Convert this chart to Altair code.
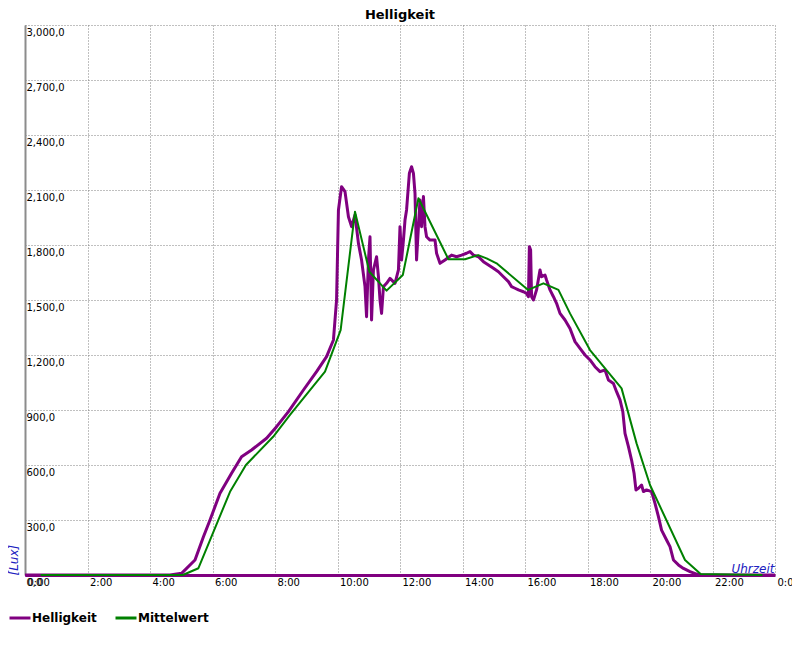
import altair as alt
import pandas as pd

# Helligkeit (hours, lux)
hell_h = [0.0, 4.64, 5.01, 5.44, 5.71, 5.92, 6.24, 6.61, 6.93, 7.25, 7.73, 8.05, 8.43, 8.91,
          9.33, 9.65, 9.87, 9.97, 10.03, 10.13, 10.24, 10.35, 10.45, 10.56, 10.67, 10.77,
          10.88, 10.93, 10.99, 11.04, 11.09, 11.15, 11.25, 11.31, 11.36, 11.41, 11.47, 11.57,
          11.68, 11.84, 11.95, 12.0, 12.05, 12.11, 12.16, 12.21, 12.30, 12.37, 12.43, 12.48,
          12.53, 12.59, 12.64, 12.69, 12.75, 12.80, 12.85, 12.96, 13.12, 13.17, 13.28, 13.44,
          13.65, 13.81, 13.97, 14.13, 14.24, 14.35, 14.51, 14.67, 14.83, 14.99, 15.15, 15.31,
          15.47, 15.57, 15.68, 15.79, 15.95, 16.05, 16.11, 16.14, 16.18, 16.21, 16.27, 16.37,
          16.48, 16.53, 16.64, 16.69, 16.80, 16.91, 17.01, 17.12, 17.28, 17.44, 17.60, 17.76,
          17.92, 18.08, 18.24, 18.40, 18.56, 18.67, 18.83, 18.93, 19.04, 19.13, 19.20, 19.31,
          19.41, 19.49, 19.55, 19.63, 19.73, 19.79, 19.89, 20.05, 20.16, 20.27, 20.37, 20.53,
          20.64, 20.75, 20.91, 21.07, 21.28, 21.49, 21.65, 24.0]
hell_v = [0, 0, 9, 82, 209, 300, 446, 555, 645, 682, 746, 809, 891, 1009,
          1109, 1191, 1282, 1500, 1991, 2118, 2091, 1954, 1900, 1964, 1809, 1718,
          1573, 1409, 1718, 1845, 1391, 1664, 1736, 1627, 1500, 1427, 1573, 1591,
          1618, 1591, 1664, 1900, 1718, 1827, 1936, 1991, 2191, 2227, 2191, 2082,
          1718, 1900, 2045, 1900, 2064, 1900, 1845, 1827, 1827, 1755, 1700, 1718,
          1745, 1736, 1745, 1755, 1764, 1745, 1736, 1709, 1691, 1673, 1654, 1627,
          1600, 1573, 1564, 1555, 1545, 1536, 1518, 1791, 1773, 1518, 1500, 1555,
          1664, 1627, 1636, 1609, 1555, 1518, 1482, 1427, 1391, 1345, 1273, 1236,
          1200, 1173, 1136, 1109, 1118, 1064, 1045, 1000, 955, 891, 773, 700,
          627, 555, 464, 473, 491, 455, 464, 455, 391, 318, 245, 191,
          155, 82, 55, 36, 18, 5, 0, 0]

# Mittelwert (hours, lux)
mit_h = [0.5, 5.05, 5.55, 6.56, 7.07, 7.94, 8.48, 9.12, 9.6, 10.1, 10.56, 11.02, 11.57,
         12.09, 12.59, 13.55, 14.08, 14.5, 14.77, 15.09, 16.1, 16.59, 17.07, 17.44, 18.08,
         19.09, 19.57, 20.0, 21.12, 21.62, 23.6]
mit_v = [0, 0, 37, 454, 600, 754, 873, 1009, 1109, 1336, 1982, 1654, 1551,
         1636, 2055, 1722, 1722, 1745, 1727, 1700, 1555, 1591, 1555, 1427, 1227,
         1018, 718, 491, 82, 5, 0]

series = ["Helligkeit", "Mittelwert"]
colors = ["#800080", "#008000"]

x_ticks = list(range(0, 25, 2))
x_tick_labels = ["0:00", "2:00", "4:00", "6:00", "8:00", "10:00", "12:00", "14:00",
                 "16:00", "18:00", "20:00", "22:00", "0:00"]
y_ticks = list(range(0, 3001, 300))
y_tick_labels = ["0,0", "300,0", "600,0", "900,0", "1,200,0", "1,500,0", "1,800,0",
                 "2,100,0", "2,400,0", "2,700,0", "3,000,0"]

df_h = pd.DataFrame({"h": hell_h, "v": hell_v, "s": series[0]})
df_m = pd.DataFrame({"h": mit_h, "v": mit_v, "s": series[1]})

x_expr = "[" + ",".join("'%s'" % t for t in x_tick_labels) + "][datum.value/2]"
y_expr = "[" + ",".join("'%s'" % t for t in y_tick_labels) + "][datum.value/300]"

FONT = "DejaVu Sans"
BLUE = "#2020c0"

x_enc = alt.X("h:Q", scale=alt.Scale(domain=[0, 24], nice=False, zero=False),
              axis=alt.Axis(values=x_ticks, labelExpr=x_expr, title="Uhrzeit",
                            labelAlign="left", labelBaseline="top", labelPadding=2,
                            labelOffset=2, labelFlush=False, labelOverlap=False,
                            ticks=False, domainColor="#800080", domainWidth=3,
                            titleX=749, titleY=-3, titleAlign="right",
                            titleBaseline="alphabetic", titleFontStyle="italic",
                            titleFontWeight="normal", titleFontSize=12,
                            titleColor=BLUE, titleFont=FONT))
y_enc = alt.Y("v:Q", scale=alt.Scale(domain=[0, 3000], nice=False),
              axis=alt.Axis(values=y_ticks, labelExpr=y_expr, title="[Lux]",
                            labelAlign="left", labelBaseline="top", labelPadding=-1,
                            labelOffset=2, labelOverlap=False, labelFlush=False,
                            ticks=False, domainColor="#8c8c8c", domainWidth=2,
                            titleAngle=270, titleX=-17, titleY=550, titleAlign="left",
                            titleBaseline="top", titleFontStyle="italic",
                            titleFontWeight="normal", titleFontSize=12,
                            titleColor=BLUE, titleFont=FONT))

color_enc = alt.Color("s:N", scale=alt.Scale(domain=series, range=colors),
                      legend=alt.Legend(title=None, orient="none", legendX=-17, legendY=581,
                                        direction="horizontal", symbolType="stroke",
                                        symbolSize=441, symbolStrokeWidth=3,
                                        labelFont=FONT, labelFontWeight="bold",
                                        labelFontSize=12, labelColor="black",
                                        labelOffset=0, columnPadding=12))

line_h = alt.Chart(df_h).mark_line(strokeWidth=3, strokeJoin="round").encode(
    x=x_enc, y=y_enc, color=color_enc)
line_m = alt.Chart(df_m).mark_line(strokeWidth=2, strokeJoin="round").encode(
    x=x_enc, y=y_enc, color=color_enc)

chart = alt.layer(line_h, line_m).properties(
    width=750, height=550,
    title=alt.TitleParams("Helligkeit", font=FONT, fontSize=13, fontWeight="bold",
                          color="black", anchor="middle", offset=3),
    autosize=alt.AutoSizeParams(type="none"),
    padding={"left": 17, "top": 17, "right": 17, "bottom": 60},
).configure_view(stroke=None).configure_axis(
    grid=True, gridColor="#808080", gridDash=[1, 2], gridWidth=1,
    labelFont=FONT, labelFontSize=10, labelColor="black",
)

chart.save("out.html", embed_options={"renderer": "svg", "actions": False})
